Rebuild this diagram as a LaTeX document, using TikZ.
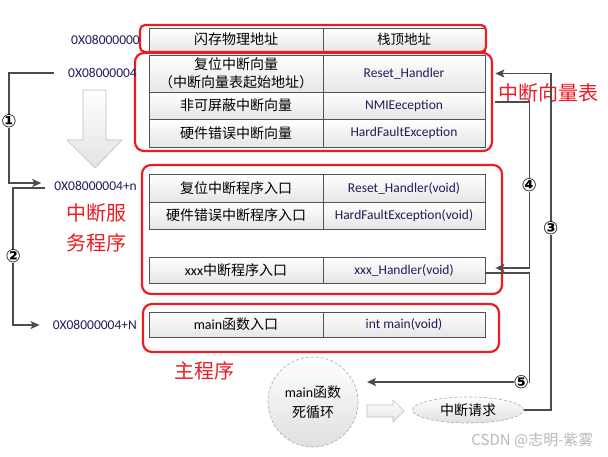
\documentclass[tikz,border=0pt]{standalone}
\usepackage{fontspec}
\setmainfont{Carlito}
\newfontfamily\en{Carlito}
\newfontfamily\cjk{Noto Sans CJK SC}
\newfontfamily\sym{DejaVu Sans}
\usetikzlibrary{arrows.meta,calc,shapes.geometric,positioning}
\definecolor{addrblue}{RGB}{30,30,90}
\definecolor{markred}{RGB}{235,28,36}

\tikzset{
  cell/.style={draw=gray!65!black, line width=0.7pt, top color=white, bottom color=gray!20, inner sep=0pt, align=center},
  lcell/.style={cell, minimum width=174pt, minimum height=#1, font=\cjk\fontsize{14}{18}\selectfont},
  rcell/.style={cell, minimum width=162pt, minimum height=#1, font=\en\fontsize{13.5}{15}\selectfont, text=addrblue},
  addr/.style={font=\en\fontsize{13.5}{15}\selectfont, text=addrblue, inner sep=1pt},
  redbox/.style={draw=markred, line width=2.2pt, rounded corners=9pt},
  marktext/.style={text=markred, font=\cjk\fontsize{20}{30}\selectfont, align=center, inner sep=0pt},
  flow/.style={draw=black!70, line width=1.4pt, -{Stealth[length=9pt,width=8pt,inset=2pt]}},
  num/.style={font=\sym\bfseries\fontsize{18}{18}\selectfont, fill=white, inner sep=0pt},
  hollow/.style={draw=gray!50, line width=0.6pt, top color=white, bottom color=gray!22},
  softnode/.style={draw=gray!60, densely dashed, line width=0.7pt, top color=white, bottom color=gray!25, align=center, inner sep=0pt, font=\cjk\fontsize{14}{20}\selectfont}
}

\begin{document}
\begin{tikzpicture}[x=1pt, y=-1pt]
    \useasboundingbox[fill=white] (0,0) rectangle (608,456);
    % column centres
    \def\lx{236}
    \def\rx{404}

    % Table rows: name / centre y / height / left text / right text
    \foreach \nm/\yc/\hh/\ltxt/\rtxt in {
        r0/39.5/23/闪存物理地址/{{\cjk\color{black}栈顶地址}},
        v1/73.5/37/{复位中断向量\\（中断向量表起始地址）}/Reset\_Handler,
        v2/105.5/27/非可屏蔽中断向量/NMIEeception,
        v3/133/28/硬件错误中断向量/HardFaultException,
        s1/188/28/复位中断程序入口/Reset\_Handler(void),
        s2/215.5/27/硬件错误中断程序入口/HardFaultException(void),
        s3/270/26/{{\en xxx}中断程序入口}/xxx\_Handler(void),
        m1/324.5/25/{{\en main}函数入口}/int main(void)} {
      \node[lcell=\hh] (\nm-l) at (\lx,\yc) {\ltxt};
      \node[rcell=\hh] (\nm-r) at (\rx,\yc) {\rtxt};
    }

    % Red frames round the groups
    \draw[redbox, rounded corners=5pt] (140,25) rectangle (486,52);
    \draw[redbox] (135,53) rectangle (492,151);
    \draw[redbox] (142,165) rectangle (502,294);
    \draw[redbox] (143,304) rectangle (499,352);

    % Addresses
    \node[addr, anchor=east] (a0) at (141,40) {0X08000000};
    \node[addr, anchor=east] (a1) at (138,73) {0X08000004};
    \node[addr, anchor=east] (a2) at (138,186) {0X08000004+n};
    \node[addr, anchor=east] (a3) at (138,325) {0X08000004+N};

    % Red labels
    \node[marktext] (vtab) at (548,93) {中断向量表};
    \node[marktext] (isr) at (96,228) {中断服\\务程序};
    \node[marktext] (mainlbl) at (204,371) {主程序};

    % Hollow arrow down
    \shade[hollow] (83,90) -- (106,90) -- (106,140) -- (122,140) -- (95,168) -- (67,140) -- (83,140) -- cycle;

    % main loop and interrupt request
    \node[softnode, circle, minimum size=90pt] (loop) at (313,402) {{\en main}函数\\死循环};
    \node[softnode, ellipse, minimum width=111pt, minimum height=26pt] (irq) at (468,410) {中断请求};
    \shade[hollow] (367,405) -- (393,405) -- (393,400) -- (404,411) -- (393,422) -- (393,417) -- (367,417) -- cycle;

    % Left side jumps
    \draw[flow] ([xshift=-13pt]a1.west) -- ++(-45,0) |- node[num, pos=0.22] (n1) {①} ([xshift=-12pt,yshift=3pt]a2.west);
    \draw[flow] ([xshift=-8pt,yshift=-2pt]a2.west) -- ++(-32,0) |- node[num, pos=0.25] (n2) {②} ([xshift=-12pt]a3.west);

    % Right side jumps
    \draw[flow] (irq.east) -- ++(27,0) |- node[num, pos=0.27] (n3) {③} ([xshift=10pt]v1-r.east);
    \draw[flow] ([xshift=10pt,yshift=3.5pt]v2-r.east) -- ++(34,0) |- node[num, pos=0.25] (n4) {④} ([xshift=10pt,yshift=2pt]s3-r.east);
    \draw[flow] ([yshift=-3pt]s3-r.east) -- ++(44,0) |- node[num, pos=0.525] (n5) {⑤} ($(loop.center)+(54,-20)$);

    % watermark
    \node[anchor=east, text=gray!55, font=\cjk\fontsize{15}{15}\selectfont] (mark) at (597,440) {CSDN @志明-紫雾};
\end{tikzpicture}
\end{document}
